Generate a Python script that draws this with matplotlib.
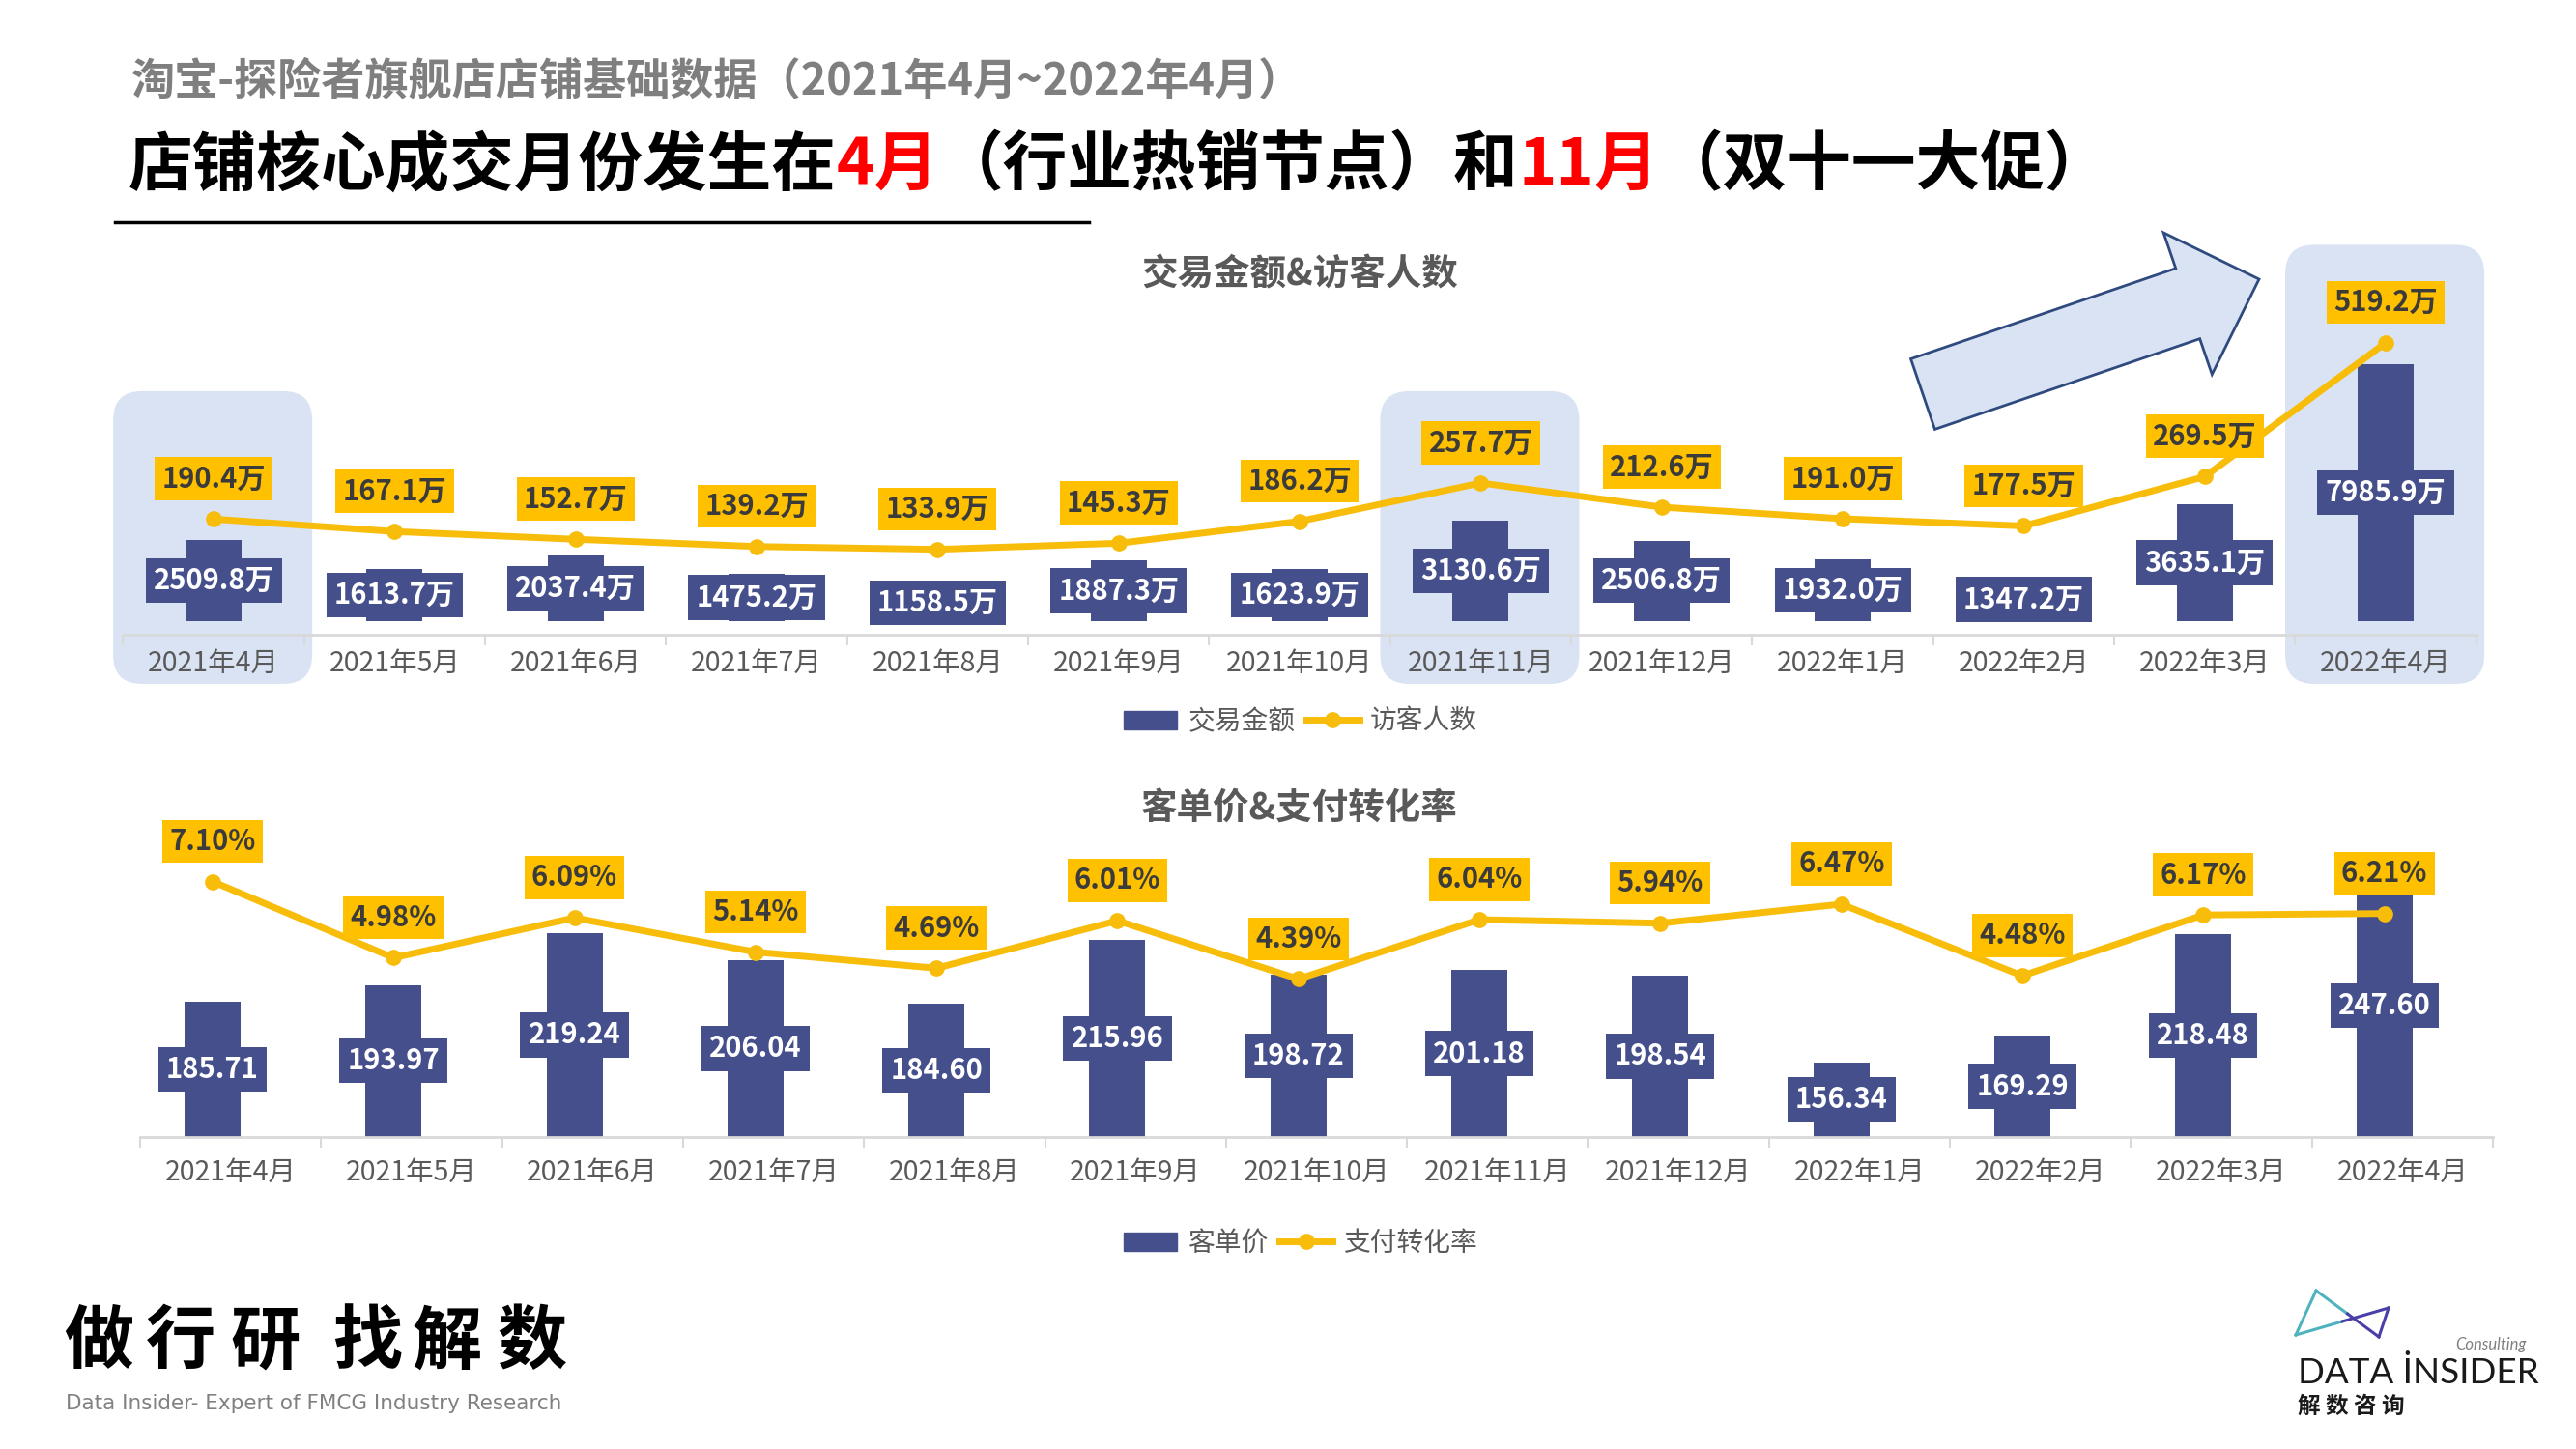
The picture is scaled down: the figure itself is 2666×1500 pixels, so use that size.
import numpy as np
import matplotlib.pyplot as plt
import matplotlib.patches as mpatches
from matplotlib.lines import Line2D

plt.rcParams['font.family'] = ['Noto Sans CJK SC', 'DejaVu Sans']

# ---- data ----
months = ['2021年4月', '2021年5月', '2021年6月', '2021年7月', '2021年8月', '2021年9月',
          '2021年10月', '2021年11月', '2021年12月', '2022年1月', '2022年2月', '2022年3月',
          '2022年4月']
gmv = [2509.8, 1613.7, 2037.4, 1475.2, 1158.5, 1887.3, 1623.9, 3130.6, 2506.8,
       1932.0, 1347.2, 3635.1, 7985.9]          # 交易金额 (万)
visitors = [190.4, 167.1, 152.7, 139.2, 133.9, 145.3, 186.2, 257.7, 212.6,
            191.0, 177.5, 269.5, 519.2]          # 访客人数 (万)
aov = [185.71, 193.97, 219.24, 206.04, 184.60, 215.96, 198.72, 201.18, 198.54,
       156.34, 169.29, 218.48, 247.60]           # 客单价
cvr = [7.10, 4.98, 6.09, 5.14, 4.69, 6.01, 4.39, 6.04, 5.94, 6.47, 4.48, 6.17, 6.21]  # 支付转化率 %
highlight = ['2021年4月', '2021年11月', '2022年4月']

NAVY = '#444F8C'
GOLD = '#FFC000'
LINEC = '#F8BD0B'
PALE = '#DAE3F3'
GREY = '#595959'
RED = '#FF0000'

W, H = 2666, 1500
fig = plt.figure(figsize=(W / 100, H / 100), dpi=100)


def rect(left, top, right, bottom):
    return [left / W, 1 - bottom / H, (right - left) / W, (bottom - top) / H]


# background layer in pixel units (titles, shapes, footer)
bg = fig.add_axes([0, 0, 1, 1], zorder=-1)
bg.set_xlim(0, W)
bg.set_ylim(H, 0)
bg.axis('off')


def combo(r, bars, line, bar_fmt, line_fmt, ylim1, ylim2, shift, gap, pad, title, title_y,
          names, legend_y):
    ax = fig.add_axes(r)
    ax.set_facecolor('none')
    n = len(months)
    x = np.arange(n)
    xb = x + shift
    ax.bar(xb, bars, width=0.31, color=NAVY, zorder=2)
    for xi, v in zip(xb, bars):
        ax.text(xi, (v + ylim1[0]) / 2, bar_fmt(v), ha='center', va='center',
                color='white', fontsize=21, fontweight='bold', zorder=3,
                bbox=dict(boxstyle='square,pad=0.28', fc=NAVY, ec='none'))
    ax.set_xlim(-0.5, n - 0.5)
    ax.set_ylim(*ylim1)
    ax.set_yticks([])
    for s in ['left', 'right', 'top']:
        ax.spines[s].set_visible(False)
    ax.spines['bottom'].set_color('#D9D9D9')
    ax.spines['bottom'].set_linewidth(2)
    ax.spines['bottom'].set_position(('outward', gap))

    ax2 = ax.twinx()
    ax2.plot(xb, line, color=LINEC, lw=5, marker='o', ms=11, zorder=3)
    for xi, v in zip(xb, line):
        ax2.annotate(line_fmt(v), (xi, v), xytext=(0, 30), textcoords='offset points',
                     ha='center', va='center', color='#3B3B3B', fontsize=21,
                     fontweight='bold', zorder=4,
                     bbox=dict(boxstyle='square,pad=0.25', fc=GOLD, ec='none'))
    ax2.set_ylim(*ylim2)
    ax2.set_yticks([])
    for s in ax2.spines.values():
        s.set_visible(False)

    ax.set_xticks(x)
    ax.set_xticklabels(months)
    ax.set_xticks(np.arange(n + 1) - 0.5, minor=True)
    ax.tick_params(axis='x', which='major', length=0, pad=pad, labelsize=20.5, labelcolor=GREY)
    ax.tick_params(axis='x', which='minor', length=8, width=1.5, color='#D9D9D9')

    bg.text(1345, title_y, title, ha='center', va='center', fontsize=27,
            fontweight='bold', color=GREY)
    handles = [mpatches.Patch(color=NAVY, label=names[0]),
               Line2D([0], [0], color=LINEC, lw=5, marker='o', ms=11, label=names[1])]
    fig.legend(handles=handles, loc='center', bbox_to_anchor=(1346 / W, 1 - legend_y / H),
               ncol=2, frameon=False, fontsize=20, handlelength=2.0, handletextpad=0.4,
               columnspacing=0.4, labelcolor=GREY)
    return ax, ax2


ax1, ax1b = combo(rect(127.4, 310, 2562.7, 643), gmv, visitors,
                  lambda v: f'{v:.1f}万', lambda v: f'{v:.1f}万',
                  (0, 10000), (0, 600), 0, 10, 11, '交易金额&访客人数', 284,
                  ['交易金额', '访客人数'], 747)

ax2, ax2b = combo(rect(145, 879, 2580, 1177), aov, cvr,
                  lambda v: f'{v:.2f}', lambda v: f'{v:.2f}%',
                  (120, 260), (0, 8), -0.1, 0, 16, '客单价&支付转化率', 836,
                  ['客单价', '支付转化率'], 1287)

# highlight rounded panels behind the key months (chart 1)
inv = bg.transData.inverted()
hl_top = [0.715, 0.715, 1.17]
for name, top in zip(highlight, hl_top):
    i = months.index(name)
    x0, y0 = inv.transform(ax1.transData.transform((i - 0.555, 0)))
    x1, _ = inv.transform(ax1.transData.transform((i + 0.545, 0)))
    _, yt = inv.transform(ax1.transAxes.transform((0, top)))
    _, yb = inv.transform(ax1.transAxes.transform((0, -0.195)))
    bg.add_patch(mpatches.FancyBboxPatch((x0, yt), x1 - x0, yb - yt,
                                         boxstyle='round,pad=0,rounding_size=30',
                                         fc=PALE, ec='none'))

# big arrow
bg.add_patch(mpatches.FancyArrow(1990, 408, 348, -119, width=77, head_width=155,
                                 head_length=78, length_includes_head=True,
                                 fc=PALE, ec='#2F4A7F', lw=2))

# headline
bg.text(136, 84, '淘宝-探险者旗舰店店铺基础数据（2021年4月~2022年4月）', ha='left',
        va='center', fontsize=32.5, fontweight='bold', color='#7F7F7F')
renderer = fig.canvas.get_renderer()
segments = [('店铺核心成交月份发生在', 'black'), ('4月', RED), ('（行业热销节点）和', 'black'),
            ('11月', RED), ('（双十一大促）', 'black')]
xpos = 133
for s, c in segments:
    t = bg.text(xpos, 172, s, ha='left', va='center', fontsize=48, fontweight='bold', color=c)
    xpos += t.get_window_extent(renderer).width
bg.plot([119, 1127], [230, 230], color='black', lw=2.5)

# footer left
for ch, cx in zip('做行研找解数', [102, 187, 275, 380, 463, 551]):
    bg.text(cx, 1390, ch, ha='center', va='center', fontsize=52, fontweight='bold',
            color='black')
bg.text(68, 1453, 'Data Insider- Expert of FMCG Industry Research', ha='left', va='center',
        fontsize=15.5, color='#808080', family=['DejaVu Sans'])

# footer right logo
A, B, C, D = (2376, 1382), (2397, 1336), (2462, 1384), (2472, 1354)
bg.plot([A[0], B[0]], [A[1], B[1]], color='#4FB3BF', lw=2.2)
bg.plot([B[0], (B[0] + C[0]) / 2], [B[1], (B[1] + C[1]) / 2], color='#4FB3BF', lw=2.2)
bg.plot([(B[0] + C[0]) / 2, C[0]], [(B[1] + C[1]) / 2, C[1]], color='#4A3FA8', lw=2.2)
bg.plot([A[0], (A[0] + D[0]) / 2], [A[1], (A[1] + D[1]) / 2], color='#4FB3BF', lw=2.2)
bg.plot([(A[0] + D[0]) / 2, D[0]], [(A[1] + D[1]) / 2, D[1]], color='#4A3FA8', lw=2.2)
bg.plot([C[0], D[0]], [C[1], D[1]], color='#4A3FA8', lw=2.2)
bg.text(2615, 1392, 'Consulting', ha='right', va='center', fontsize=12, style='italic',
        color='#808080', family=['Lato', 'DejaVu Sans'])
bg.text(2378, 1421, 'DATA İNSIDER', ha='left', va='center', fontsize=26.5,
        color='#1A1A1A', family=['Lato', 'DejaVu Sans'])
bg.text(2378, 1456, '解 数 咨 询', ha='left', va='center', fontsize=17, fontweight='bold',
        color='#1A1A1A')

fig.savefig('out.png', dpi=100, facecolor='white')
